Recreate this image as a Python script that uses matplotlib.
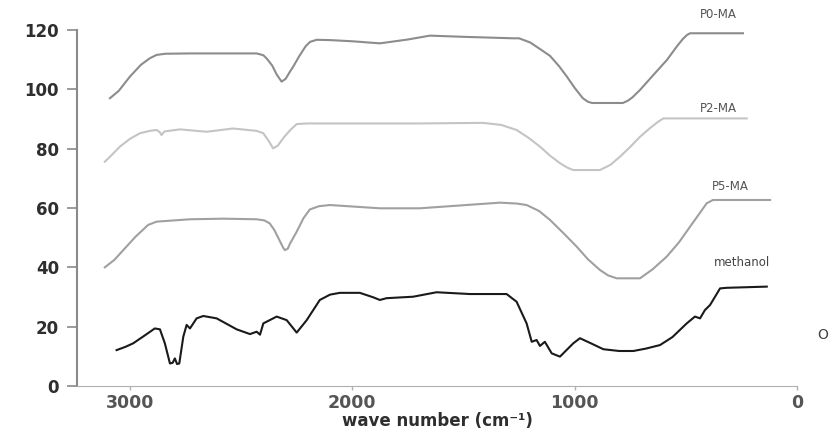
import numpy as np
import matplotlib
matplotlib.use("Agg")
import matplotlib.pyplot as plt

# spektra IR (wave number, nilai)
p0_wn = [3090, 3050, 3000, 2950, 2910, 2880, 2840, 2730, 2430, 2400, 2385, 2360, 2340, 2318,
         2300, 2280, 2266, 2240, 2210, 2190, 2160, 2100, 2000, 1876, 1750, 1651, 1500, 1277,
         1250, 1200, 1160, 1111, 1070, 1035, 1000, 963, 940, 922, 783, 760, 740, 706, 650,
         585, 540, 513, 495, 481, 243]
p0_val = [97.0, 99.5, 104.3, 108.3, 110.5, 111.6, 112.0, 112.1, 112.1, 111.5, 110.4, 108.0, 105.0, 102.6,
          103.5, 106.0, 107.6, 111.0, 114.5, 116.0, 116.7, 116.6, 116.2, 115.5, 116.8, 118.1, 117.7, 117.2,
          117.2, 115.8, 113.8, 111.3, 107.8, 104.3, 100.5, 97.0, 95.8, 95.4, 95.4, 96.2, 97.3, 99.8, 104.5,
          109.9, 114.5, 117.0, 118.3, 118.9, 118.9]

p2_wn = [3113, 3080, 3045, 3000, 2955, 2910, 2880, 2865, 2858, 2845, 2775, 2655, 2536, 2430,
         2400, 2375, 2356, 2335, 2311, 2280, 2250, 2200, 1696, 1412, 1330, 1261, 1210, 1156,
         1110, 1066, 1030, 1006, 886, 840, 796, 750, 706, 660, 624, 601, 226]
p2_val = [75.6, 78.0, 80.7, 83.3, 85.2, 86.0, 86.3, 85.5, 84.6, 85.8, 86.5, 85.7, 86.8, 86.0,
          85.2, 82.5, 80.1, 81.0, 83.5, 86.2, 88.3, 88.5, 88.5, 88.7, 88.0, 86.3, 83.8, 80.7,
          77.6, 75.1, 73.5, 72.8, 72.8, 74.5, 77.3, 80.6, 84.0, 87.0, 89.1, 90.2, 90.2]

p5_wn = [3113, 3070, 3030, 2975, 2918, 2880, 2730, 2580, 2430, 2395, 2371, 2350, 2330, 2310,
         2303, 2290, 2280, 2250, 2220, 2191, 2150, 2101, 1876, 1696, 1336, 1260, 1216, 1160,
         1111, 1050, 991, 940, 886, 850, 811, 706, 650, 586, 530, 481, 440, 406, 378, 121]
p5_val = [40.0, 42.5, 45.8, 50.3, 54.3, 55.4, 56.2, 56.4, 56.2, 55.8, 54.8, 52.5, 49.5, 46.5,
          45.8, 46.3, 48.0, 52.0, 56.5, 59.5, 60.6, 61.0, 59.9, 59.9, 61.8, 61.5, 61.0, 59.0,
          56.0, 51.5, 47.0, 42.7, 39.1, 37.3, 36.3, 36.3, 39.3, 43.6, 48.5, 53.7, 58.0, 61.6, 62.7, 62.7]

meth_wn = [3060, 3020, 2985, 2940, 2888, 2865, 2843, 2820, 2808, 2798, 2788, 2778, 2760, 2745,
           2730, 2700, 2670, 2610, 2520, 2460, 2430, 2415, 2400, 2340, 2295, 2250, 2205, 2146,
           2100, 2056, 1966, 1906, 1876, 1846, 1726, 1621, 1471, 1306, 1261, 1216, 1193, 1171,
           1156, 1134, 1103, 1066, 1006, 976, 930, 871, 800, 736, 680, 616, 560, 496, 459, 436,
           414, 391, 346, 316, 136]
meth_val = [12.1, 13.2, 14.4, 16.7, 19.4, 19.1, 14.4, 7.6, 7.8, 9.3, 7.4, 7.6, 16.6, 20.6,
            19.4, 22.8, 23.6, 22.8, 19.1, 17.5, 18.3, 17.3, 21.1, 23.4, 22.2, 18.0, 22.2, 29.0,
            30.8, 31.4, 31.4, 29.9, 29.0, 29.6, 30.1, 31.6, 31.0, 31.0, 28.4, 21.1, 14.9, 15.5,
            13.5, 14.9, 11.0, 9.9, 14.4, 16.1, 14.5, 12.4, 11.8, 11.8, 12.6, 13.8, 16.5, 21.1, 23.4, 22.8,
            25.6, 27.3, 32.9, 33.1, 33.5]

y_ticks = [0, 20, 40, 60, 80, 100, 120]
x_ticks = [3000, 2000, 1000, 0]

fig = plt.figure(figsize=(8.3, 4.34), dpi=100)
ax = fig.add_axes([77/830, 1-386/434, 720/830, 356/434])

ax.plot(p0_wn, p0_val, color='#8c8c8c', lw=1.5)
ax.plot(p2_wn, p2_val, color='#c4c4c4', lw=1.5)
ax.plot(p5_wn, p5_val, color='#a0a0a0', lw=1.5)
ax.plot(meth_wn, meth_val, color='#1a1a1a', lw=1.5)

ax.set_xlim(3238, 0)
ax.set_ylim(0, 120)
ax.set_yticks(y_ticks)
ax.set_xticks(x_ticks)

for s in ['top', 'right']:
    ax.spines[s].set_visible(False)
ax.spines['left'].set_color('#8a8a8a')
ax.spines['bottom'].set_color('#b0b0b0')
ax.spines['left'].set_linewidth(1.5)
ax.tick_params(axis='y', length=7, width=1.2, color='#8a8a8a', labelsize=12,
               labelcolor='#2e2e2e', pad=6)
ax.tick_params(axis='x', length=3, width=1, color='#b0b0b0', labelsize=12.5,
               labelcolor='#555555', pad=3)
for lab in ax.get_xticklabels() + ax.get_yticklabels():
    lab.set_fontweight('bold')

ax.set_xlabel('wave number (cm⁻¹)', fontsize=12, fontweight='bold', color='#2e2e2e', labelpad=0)

# label tiap kurva
fig.text(718/830, 1-15/434, 'P0-MA', fontsize=8.5, color='#555555', ha='center', va='center')
fig.text(718/830, 1-108/434, 'P2-MA', fontsize=8.5, color='#555555', ha='center', va='center')
fig.text(730/830, 1-187/434, 'P5-MA', fontsize=8.5, color='#555555', ha='center', va='center')
fig.text(742/830, 1-263/434, 'methanol', fontsize=8.5, color='#444444', ha='center', va='center')
fig.text(823/830, 1-335/434, 'O', fontsize=10, color='#444444', ha='center', va='center')

fig.savefig('out.png', dpi=100)
